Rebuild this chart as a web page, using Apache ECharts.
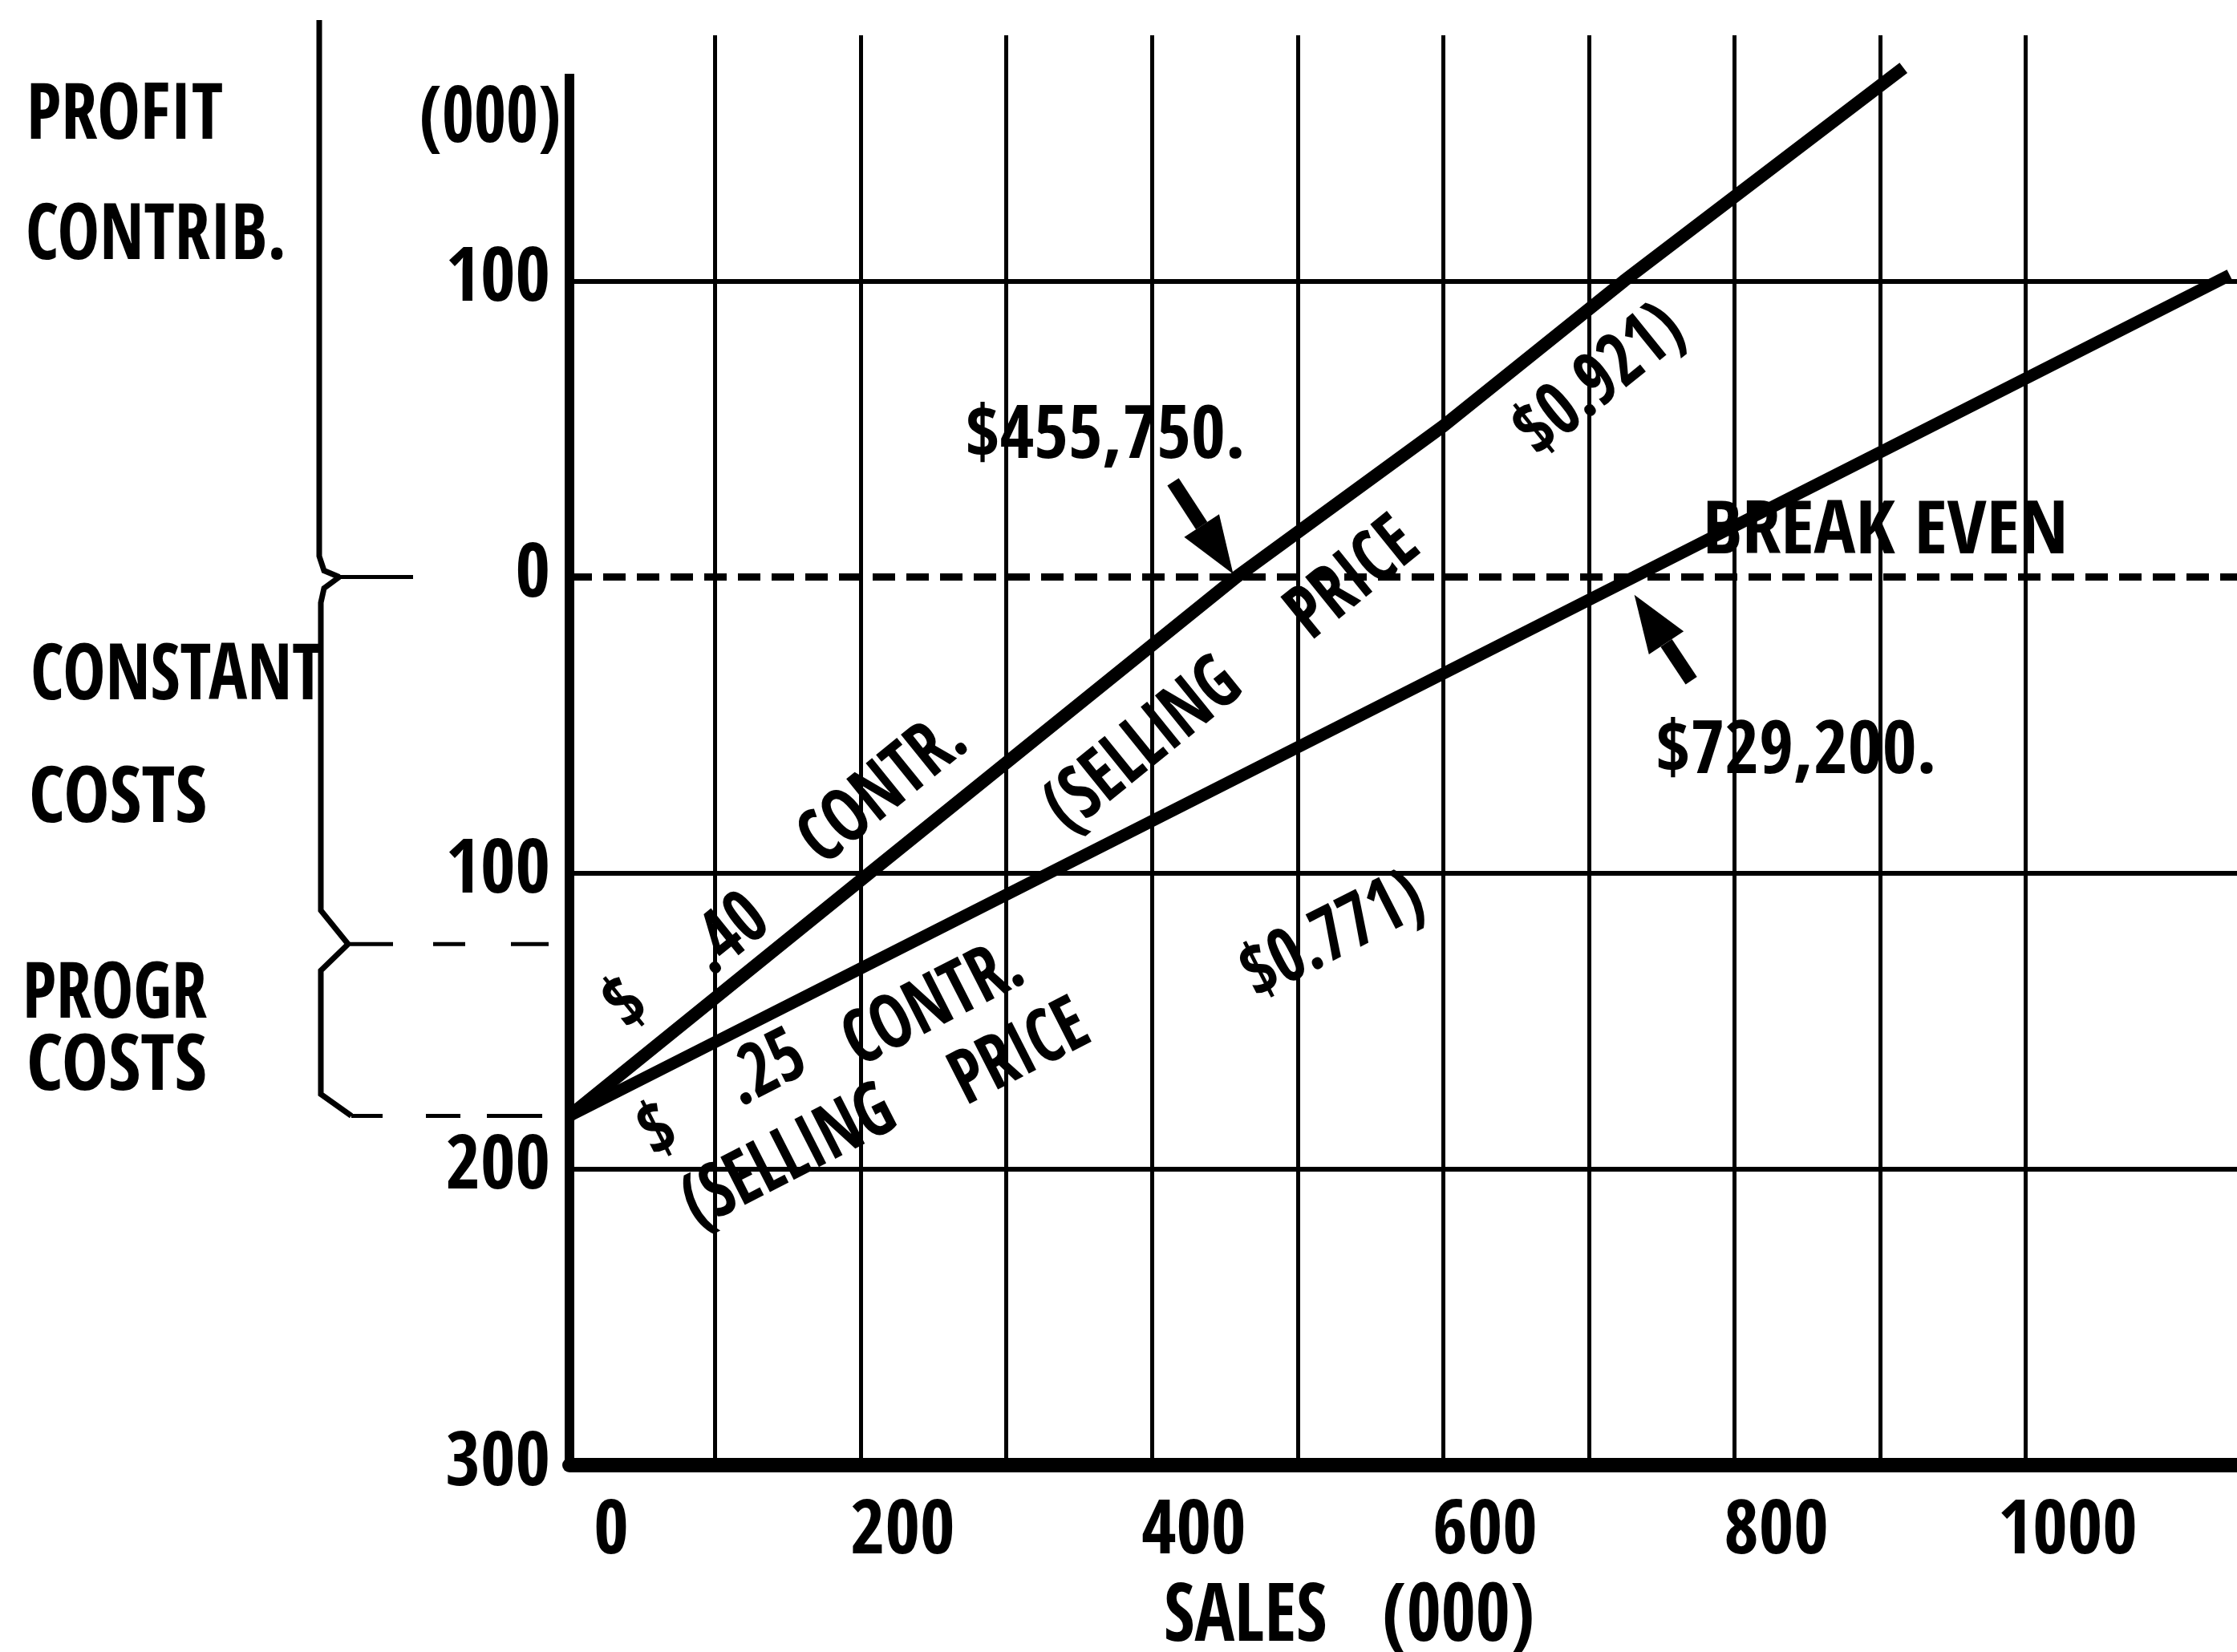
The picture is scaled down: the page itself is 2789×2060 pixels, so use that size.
<!DOCTYPE html>
<html><head><meta charset="utf-8">
<script src="https://cdn.jsdelivr.net/npm/echarts@6/dist/echarts.min.js"></script>
<style>html,body{margin:0;padding:0;background:#fff}#c{width:2789px;height:2060px}</style>
</head><body><div id="c"></div>
<script>
// ---- data (values in thousands) ----
const xTickValues = [0, 200, 400, 600, 800, 1000];
const xGridValues = [100, 200, 300, 400, 500, 600, 700, 800, 900, 1000];
const yTickValues = [100, 0, -100, -200, -300];
const yGridSolid = [100, -100, -200];
const yBreakEven = [0];
const yAxisSpan = [[0, -300], [0, 170]];
const contr40 = [[0, -182], [206, -100], [458, 0], [600, 51], [724, 100], [916, 172]];
const contr25 = [[0, -182], [731, 0], [1140, 102]];
const braceLevels = [0, -124, -182];
const breakEven40 = 455.75;
const breakEven25 = 729.2;

const FONT = '"Open Sans Condensed", "Liberation Sans Narrow", "Liberation Sans", sans-serif';
const chart = echarts.init(document.getElementById('c'), null, {renderer: 'canvas'});
const baseText = {color: '#000', fontFamily: FONT, fontWeight: 'bold'};

chart.setOption({
  animation: false,
  backgroundColor: '#fff',
  grid: {left: 710, right: 0, top: 44, bottom: 233, containLabel: false},
  xAxis: {
    type: 'value', min: 0, max: 1145, interval: 200,
    axisLine: {show: true, onZero: false, lineStyle: {color: '#000', width: 18}},
    axisTick: {show: false}, splitLine: {show: false},
    axisLabel: Object.assign({}, baseText, {fontSize: 94, margin: 38, showMaxLabel: false,
      padding: [0, 0, 0, 104],
      formatter: v => xTickValues.includes(v) ? String(v) : ''})
  },
  yAxis: {
    type: 'value', min: -300, max: 183, interval: 100,
    axisLine: {show: false}, axisTick: {show: false}, splitLine: {show: false},
    axisLabel: Object.assign({}, baseText, {fontSize: 94, margin: 24, showMaxLabel: false,
      formatter: v => yTickValues.includes(v) ? String(Math.abs(v)) : ''})
  },
  series: [
    {
      name: 'grid', type: 'line', data: [], silent: true,
      markLine: {
        silent: true, symbol: 'none', label: {show: false}, animation: false,
        data: [
          ...xGridValues.map(v => ({xAxis: v, lineStyle: {color: '#000', width: 5, type: 'solid'}})),
          ...yGridSolid.map(v => ({yAxis: v, lineStyle: {color: '#000', width: 6, type: 'solid'}})),
          ...yBreakEven.map(v => ({yAxis: v, lineStyle: {color: '#000', width: 9, type: [28, 14]}}))
        ]
      }
    },
    {name: 'yAxisLine', type: 'line', data: yAxisSpan, symbol: 'none', silent: true,
      lineStyle: {color: '#000', width: 12, cap: 'butt'}, z: 3},
    {name: '$.40 contr.', type: 'line', data: contr40, symbol: 'none', silent: true,
      lineStyle: {color: '#000', width: 16, cap: 'butt'}, z: 4},
    {name: '$.25 contr.', type: 'line', data: contr25, symbol: 'none', silent: true,
      lineStyle: {color: '#000', width: 15, cap: 'butt'}, z: 4}
  ]
});

// ---- annotations placed through the chart's own scales ----
const P = (x, y) => chart.convertToPixel({gridIndex: 0}, [x, y]);
const deg = d => d * Math.PI / 180;
const cv = document.createElement('canvas').getContext('2d');
function fontStr(size) { return 'bold ' + size + 'px ' + FONT; }
function txt(text, x, y, size, opts) {
  opts = opts || {};
  let sx = opts.sx || 0.92;
  if (opts.width) { cv.font = fontStr(size); sx = opts.width / cv.measureText(text).width; }
  return {type: 'text', x: x, y: y, rotation: opts.rot ? deg(opts.rot) : 0,
    scaleX: sx, z: 50,
    style: {text: text, fill: '#000', font: fontStr(size),
      align: opts.align || 'center', verticalAlign: 'middle'}};
}
function dataTxt(text, dx, dy, size, opts) {
  const p = P(dx, dy);
  return txt(text, p[0], p[1], size, opts);
}
function arrow(tip, tail, headLen, headW, shaftW) {
  const vx = tip[0] - tail[0], vy = tip[1] - tail[1];
  const L = Math.hypot(vx, vy), ux = vx / L, uy = vy / L, nx = -uy, ny = ux;
  const bx = tip[0] - ux * headLen, by = tip[1] - uy * headLen;
  return [
    {type: 'line', z: 50, shape: {x1: tail[0], y1: tail[1], x2: bx, y2: by},
      style: {stroke: '#000', lineWidth: shaftW}},
    {type: 'polygon', z: 50, shape: {points: [[tip[0], tip[1]],
      [bx + nx * headW / 2, by + ny * headW / 2], [bx - nx * headW / 2, by - ny * headW / 2]]},
      style: {fill: '#000'}}
  ];
}

const yTop = P(0, braceLevels[0])[1], yMid = P(0, braceLevels[1])[1], yBot = P(0, braceLevels[2])[1];
const braceStyle = {stroke: '#000', lineWidth: 7, fill: null};
const g = [];
g.push({type: 'polyline', z: 50, shape: {points: [[398, 25], [398, yTop - 26], [404, yTop - 8], [423, yTop]]}, style: braceStyle});
g.push({type: 'line', z: 50, shape: {x1: 423, y1: yTop, x2: 515, y2: yTop}, style: {stroke: '#000', lineWidth: 5}});
g.push({type: 'polyline', z: 50, shape: {points: [[423, yTop], [404, yTop + 14], [400, yTop + 32], [400, yMid - 42], [434, yMid]]}, style: braceStyle});
g.push({type: 'polyline', z: 50, shape: {points: [[434, yMid], [400, yMid + 33], [400, yBot - 27], [438, yBot]]}, style: braceStyle});
[[434, 490], [540, 580], [637, 684]].forEach(s => g.push({type: 'line', z: 50,
  shape: {x1: s[0], y1: yMid, x2: s[1], y2: yMid}, style: {stroke: '#000', lineWidth: 5}}));
[[438, 477], [531, 574], [607, 676]].forEach(s => g.push({type: 'line', z: 50,
  shape: {x1: s[0], y1: yBot, x2: s[1], y2: yBot}, style: {stroke: '#000', lineWidth: 5}}));

// left labels
g.push(txt('PROFIT', 33, 147, 98, {align: 'left', width: 245}));
g.push(txt('CONTRIB.', 32, 297, 98, {align: 'left', width: 325}));
g.push(txt('CONSTANT', 38, 846, 98, {align: 'left', width: 365}));
g.push(txt('COSTS', 36, 999, 98, {align: 'left', width: 222}));
g.push(txt('PROGR', 28, 1243, 98, {align: 'left', width: 230}));
g.push(txt('COSTS', 33, 1333, 98, {align: 'left', width: 225}));
g.push(txt('(000)', 611, 151, 98, {width: 176}));
g.push(txt('SALES   (000)', 1682, 2020, 100, {width: 462}));

// annotations on the plot
g.push(dataTxt('$455,750.', 368, 46.7, 92, {width: 349}));
g.push(dataTxt('BREAK EVEN', 903.6, 14.4, 92, {width: 456}));
g.push(dataTxt('$729,200.', 842.4, -59.8, 92, {width: 350}));
const t1 = P(breakEven40, 1), t2 = P(breakEven25 + 2, -6);
arrow(t1, [t1[0] - 75, t1[1] - 115], 72, 52, 17).forEach(e => g.push(e));
arrow(t2, [t2[0] + 71, t2[1] + 107], 72, 52, 17).forEach(e => g.push(e));

const r1 = {rot: 39, sx: 0.88}, r2 = {rot: 27, sx: 0.88}, RS = 94;
g.push(dataTxt('$', 40.2, -145.1, RS, r1));
g.push(dataTxt('.40', 110.2, -121.5, RS, r1));
g.push(dataTxt('CONTR.', 216.5, -72.5, RS, r1));
g.push(dataTxt('(SELLING', 395, -57.6, RS, r1));
g.push(dataTxt('PRICE', 539, -1.3, RS, r1));
g.push(dataTxt('$0.921)', 708.5, 65.8, RS, r1));
g.push(dataTxt('$', 61.7, -188.1, RS, r2));
g.push(dataTxt('.25', 135.5, -167, RS, r2));
g.push(dataTxt('CONTR.', 250.7, -145.1, RS, r2));
g.push(dataTxt('(SELLING', 151.5, -196.8, RS, r2));
g.push(dataTxt('PRICE', 310, -161.6, RS, r2));
g.push(dataTxt('$0.771)', 525, -122, RS, r2));

chart.setOption({graphic: g});
</script></body></html>
